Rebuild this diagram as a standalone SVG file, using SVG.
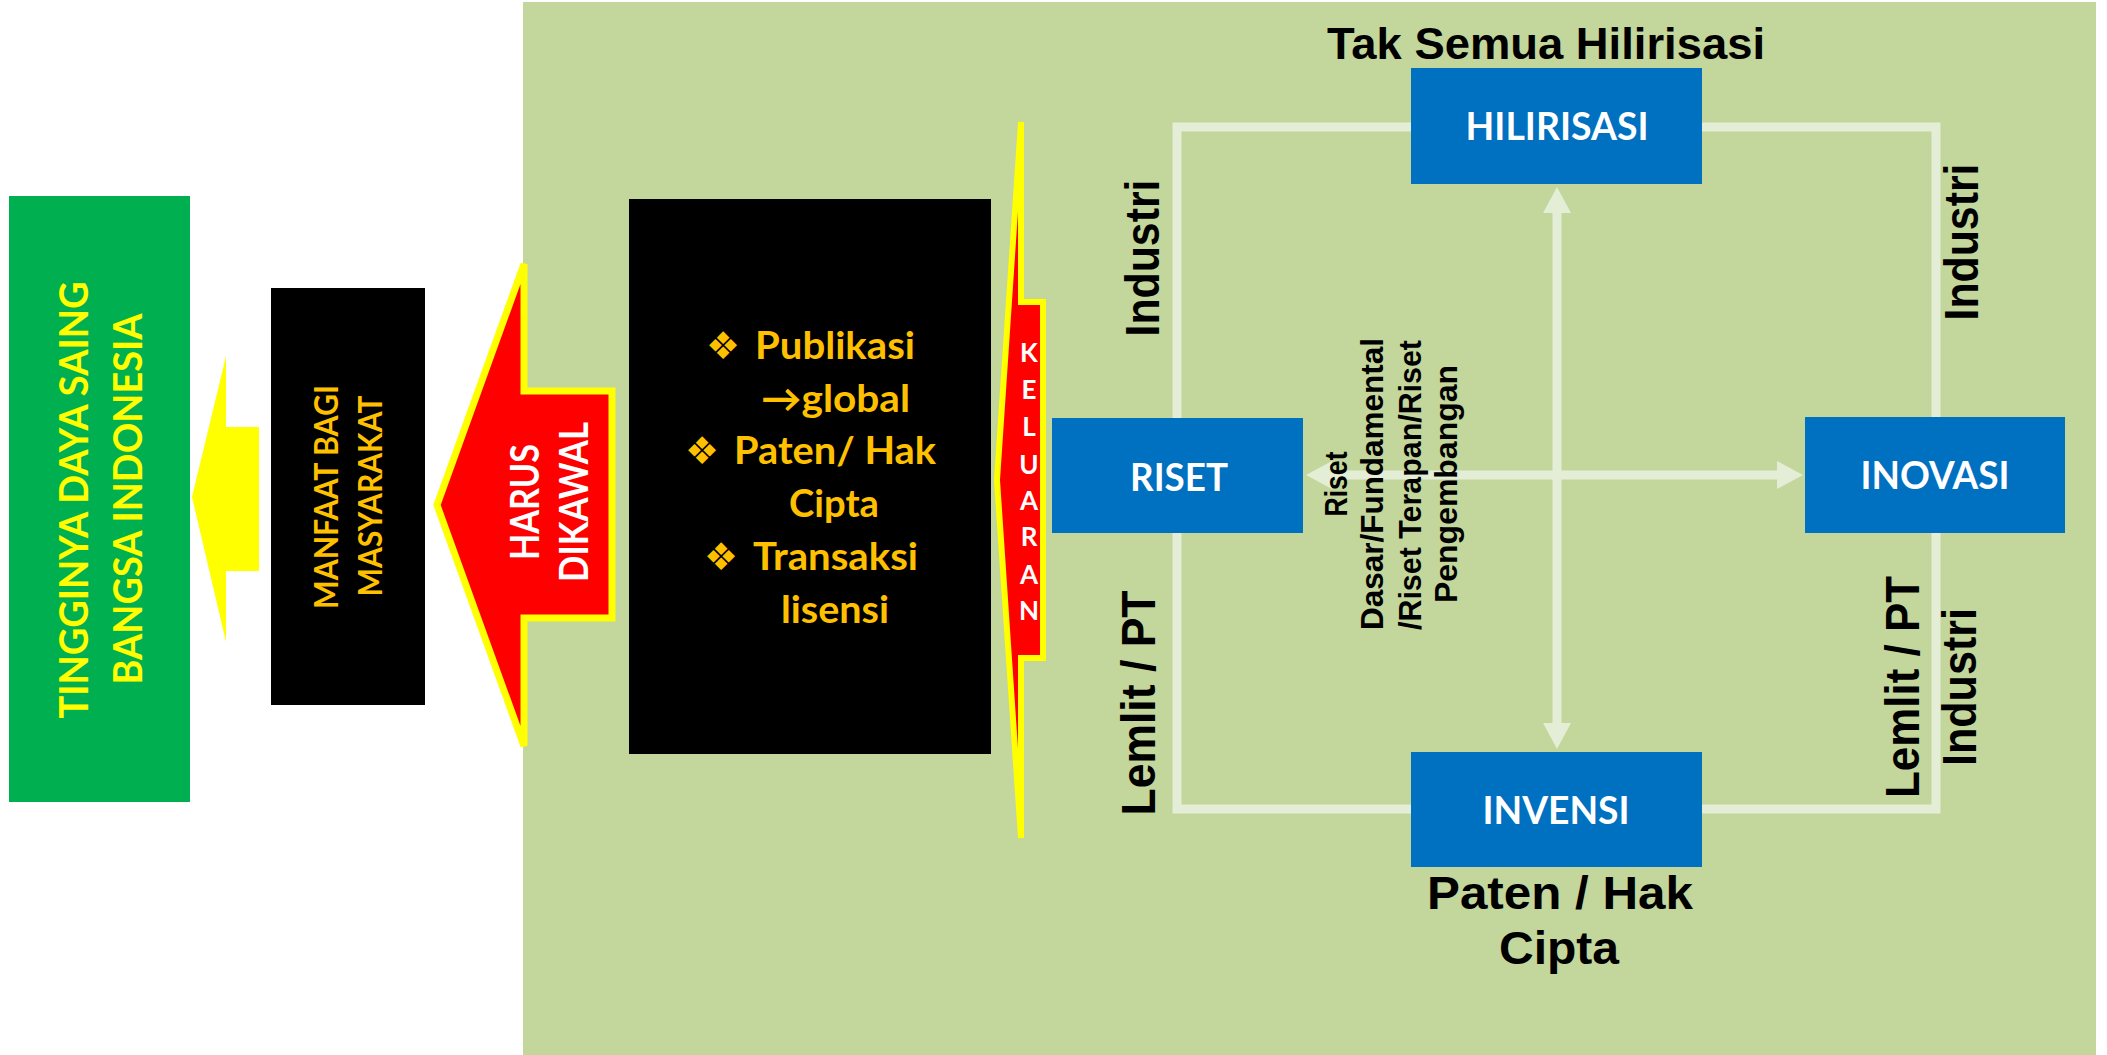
<svg xmlns="http://www.w3.org/2000/svg" width="2107" height="1055" viewBox="0 0 2107 1055">
<defs>
<style>
.cal{font-family:Lato,"Liberation Sans",sans-serif;font-weight:bold}
.cg{font-family:"Liberation Sans",Arial,sans-serif;font-weight:bold;fill:#000}
.gold{fill:#FFC000}
.wh{fill:#FFFFFF}
.box{fill:#0070C0}
.loop{fill:none;stroke:#E4EED6;stroke-width:9}
.arr{stroke:#E4EED6;stroke-width:9;fill:none}
.bul{font-family:"DejaVu Sans",sans-serif;fill:#FFC000}
</style>
<marker id="ah" viewBox="0 -15 27 30" markerWidth="27" markerHeight="30" refX="1" refY="0" orient="auto-start-reverse" markerUnits="userSpaceOnUse">
<path d="M0,-14 L26,0 L0,14 Z" fill="#E4EED6"/>
</marker>
</defs>
<rect x="0" y="0" width="2107" height="1055" fill="#FFFFFF"/>
<rect id="panel" x="523" y="2" width="1573" height="1053" fill="#C3D69B"/>

<g id="connectors">
<rect class="loop" x="1177" y="127" width="759" height="682"/>
<line class="arr" x1="1557" y1="212" x2="1557" y2="724" marker-start="url(#ah)" marker-end="url(#ah)"/>
<line class="arr" x1="1331" y1="475" x2="1778" y2="475" marker-start="url(#ah)" marker-end="url(#ah)"/>
</g>

<g id="daya-saing">
<rect x="9" y="196" width="181" height="606" fill="#00B050"/>
<text class="cal" font-size="40" fill="#FFFF00" text-anchor="middle" textLength="437" lengthAdjust="spacingAndGlyphs" transform="translate(88,500) rotate(-90)">TINGGINYA DAYA SAING</text>
<text class="cal" font-size="40" fill="#FFFF00" text-anchor="middle" textLength="371" lengthAdjust="spacingAndGlyphs" transform="translate(142,499) rotate(-90)">BANGSA INDONESIA</text>
</g>

<g id="arrow-yellow">
<polygon points="192,497 226,356 226,427 259,427 259,571 226,571 226,642" fill="#FFFF00"/>
</g>

<g id="manfaat">
<rect x="271" y="288" width="154" height="417" fill="#000000"/>
<text class="cal gold" font-size="32" text-anchor="middle" textLength="224" lengthAdjust="spacingAndGlyphs" transform="translate(338,497) rotate(-90)">MANFAAT BAGI</text>
<text class="cal gold" font-size="32" text-anchor="middle" textLength="201" lengthAdjust="spacingAndGlyphs" transform="translate(382,496) rotate(-90)">MASYARAKAT</text>
</g>

<g id="harus-dikawal">
<polygon points="437,505 524,264 524,391 612,391 612,618 524,618 524,746" fill="#FF0000" stroke="#FFFF00" stroke-width="7"/>
<text class="cal wh" font-size="41" text-anchor="middle" textLength="116" lengthAdjust="spacingAndGlyphs" transform="translate(539,502) rotate(-90)">HARUS</text>
<text class="cal wh" font-size="41" text-anchor="middle" textLength="160" lengthAdjust="spacingAndGlyphs" transform="translate(588,502) rotate(-90)">DIKAWAL</text>
</g>

<g id="keluaran-list">
<rect x="629" y="199" width="362" height="555" fill="#000000"/>
<text class="bul" font-size="38" x="706" y="359">❖</text>
<text class="cal gold" font-size="38" x="755" y="359" textLength="160" lengthAdjust="spacingAndGlyphs">Publikasi</text>
<text class="cal gold" font-size="38" x="761" y="412" textLength="149" lengthAdjust="spacingAndGlyphs">→global</text>
<text class="bul" font-size="38" x="685" y="464">❖</text>
<text class="cal gold" font-size="38" x="734" y="464" textLength="202" lengthAdjust="spacingAndGlyphs">Paten/ Hak</text>
<text class="cal gold" font-size="38" x="789" y="517" textLength="90" lengthAdjust="spacingAndGlyphs">Cipta</text>
<text class="bul" font-size="38" x="704" y="570">❖</text>
<text class="cal gold" font-size="38" x="753" y="570" textLength="165" lengthAdjust="spacingAndGlyphs">Transaksi</text>
<text class="cal gold" font-size="38" x="781" y="623" textLength="108" lengthAdjust="spacingAndGlyphs">lisensi</text>
</g>

<g id="keluaran-arrow">
<polygon points="997,480 1021,122 1021,302 1043,302 1043,658 1021,658 1021,838" fill="#FF0000" stroke="#FFFF00" stroke-width="6"/>
<g class="cal wh" font-size="26" text-anchor="middle">
<text x="1029" y="362">K</text>
<text x="1029" y="399">E</text>
<text x="1029" y="436">L</text>
<text x="1029" y="474">U</text>
<text x="1029" y="510">A</text>
<text x="1029" y="546">R</text>
<text x="1029" y="584">A</text>
<text x="1029" y="620">N</text>
</g>
</g>

<g id="title">
<text class="cg" font-size="44" x="1327" y="59" textLength="438" lengthAdjust="spacingAndGlyphs">Tak Semua Hilirisasi</text>
</g>

<g id="hilirisasi">
<rect class="box" x="1411" y="68" width="291" height="116"/>
<text class="cal wh" font-size="39" x="1557" y="140" text-anchor="middle" textLength="183" lengthAdjust="spacingAndGlyphs">HILIRISASI</text>
</g>

<g id="riset">
<rect class="box" x="1052" y="418" width="251" height="115"/>
<text class="cal wh" font-size="39" x="1179" y="491" text-anchor="middle" textLength="98" lengthAdjust="spacingAndGlyphs">RISET</text>
</g>

<g id="inovasi">
<rect class="box" x="1805" y="417" width="260" height="116"/>
<text class="cal wh" font-size="39" x="1935" y="489" text-anchor="middle" textLength="149" lengthAdjust="spacingAndGlyphs">INOVASI</text>
</g>

<g id="invensi">
<rect class="box" x="1411" y="752" width="291" height="115"/>
<text class="cal wh" font-size="39" x="1556" y="824" text-anchor="middle" textLength="147" lengthAdjust="spacingAndGlyphs">INVENSI</text>
</g>

<g id="labels">
<text class="cg" font-size="46" x="1560" y="909" text-anchor="middle" textLength="266" lengthAdjust="spacingAndGlyphs">Paten / Hak</text>
<text class="cg" font-size="46" x="1559" y="964" text-anchor="middle" textLength="120" lengthAdjust="spacingAndGlyphs">Cipta</text>
<text class="cg" font-size="48" text-anchor="middle" textLength="157" lengthAdjust="spacingAndGlyphs" transform="translate(1159,258) rotate(-90)">Industri</text>
<text class="cg" font-size="48" text-anchor="middle" textLength="225" lengthAdjust="spacingAndGlyphs" transform="translate(1155,703) rotate(-90)">Lemlit / PT</text>
<text class="cg" font-size="48" text-anchor="middle" textLength="157" lengthAdjust="spacingAndGlyphs" transform="translate(1978,242) rotate(-90)">Industri</text>
<text class="cg" font-size="48" text-anchor="middle" textLength="222" lengthAdjust="spacingAndGlyphs" transform="translate(1919,687) rotate(-90)">Lemlit / PT</text>
<text class="cg" font-size="48" text-anchor="middle" textLength="158" lengthAdjust="spacingAndGlyphs" transform="translate(1976,687) rotate(-90)">Industri</text>
<text class="cg" font-size="31" text-anchor="middle" textLength="65" lengthAdjust="spacingAndGlyphs" transform="translate(1347,484) rotate(-90)">Riset</text>
<text class="cg" font-size="31" text-anchor="middle" textLength="292" lengthAdjust="spacingAndGlyphs" transform="translate(1383,484) rotate(-90)">Dasar/Fundamental</text>
<text class="cg" font-size="31" text-anchor="middle" textLength="290" lengthAdjust="spacingAndGlyphs" transform="translate(1421,485) rotate(-90)">/Riset Terapan/Riset</text>
<text class="cg" font-size="31" text-anchor="middle" textLength="238" lengthAdjust="spacingAndGlyphs" transform="translate(1457,484) rotate(-90)">Pengembangan</text>
</g>
</svg>
